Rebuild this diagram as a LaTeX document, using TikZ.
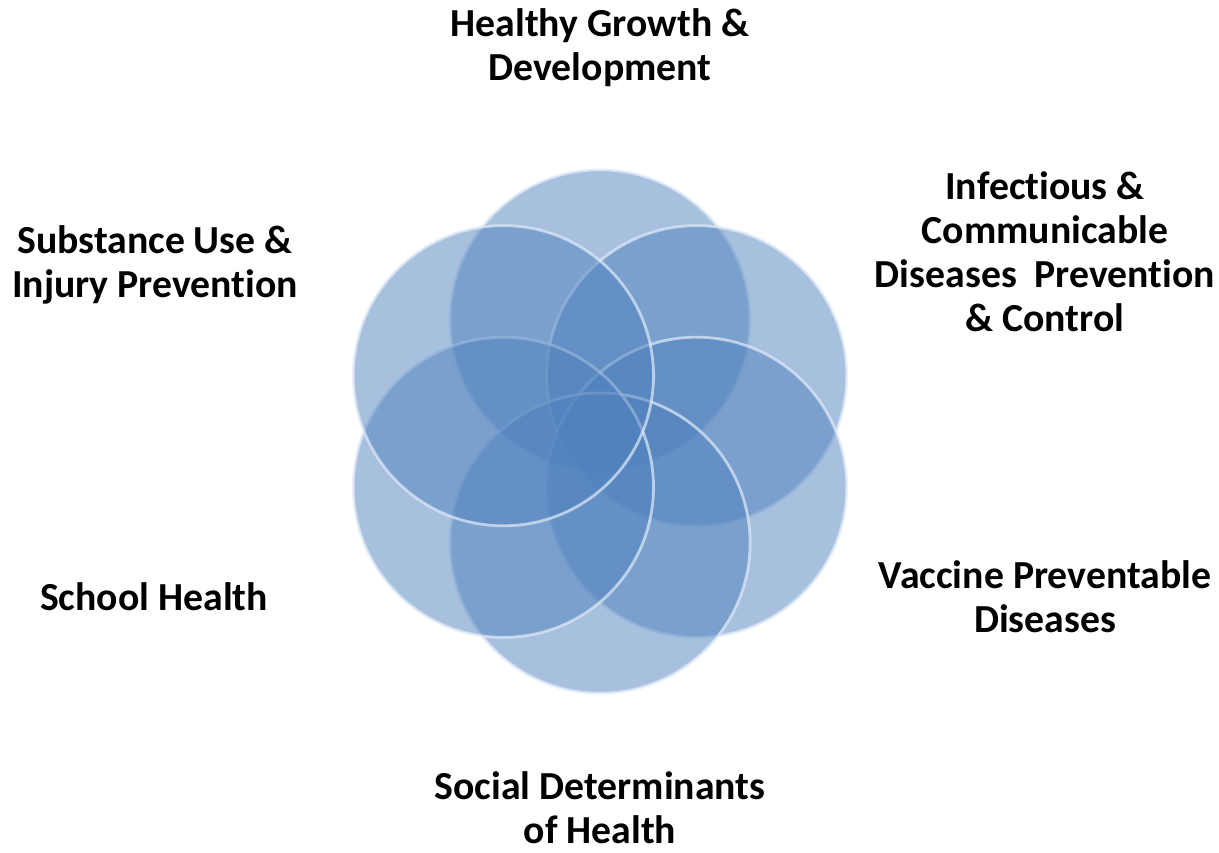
\documentclass[tikz,border=0pt]{standalone}
\usepackage{fontspec}
\setmainfont{Carlito}[Ligatures=NoCommon]
\usepackage{tikz}
\usetikzlibrary{positioning,calc}
\definecolor{petalblue}{RGB}{79,129,189}
\definecolor{rimwhite}{RGB}{225,235,248}
\tikzset{
  petal/.style={circle, minimum size=3cm, inner sep=0pt, fill=petalblue, fill opacity=0.5, draw=rimwhite, draw opacity=0.7, line width=0.8pt},
  topic/.style={align=center, inner sep=0pt, font=\bfseries\fontsize{11.3pt}{12.5pt}\selectfont},
}
\begin{document}
\begin{tikzpicture}[x=0.01cm, y=-0.01cm]
  \useasboundingbox (0,0) rectangle (1219,852);
  \coordinate (hub) at (600,431.5);

  % Petals
  \foreach \name/\ang in {growth/90, infect/30, vaccine/-30, social/-90, school/-150, injury/150}
    \node[petal] (\name) at ($(hub)+(\ang:1.115cm)$) {};

  % Labels
  \node[topic] (lgrowth) at (600,48) {Healthy Growth \&\\Development};
  \node[topic] (linfect) at (1045,252) {Infectious \&\\Communicable\\Diseases\ \ Prevention\\\& Control};
  \node[topic] (linjury) at (155,265) {Substance Use \&\\Injury Prevention};
  \node[topic] (lschool) at (154,597) {School Health};
  \node[topic] (lvaccine) at (1045,597) {Vaccine Preventable\\Diseases};
  \node[topic] (lsocial) at (600,808) {Social Determinants\\of Health};
\end{tikzpicture}
\end{document}
